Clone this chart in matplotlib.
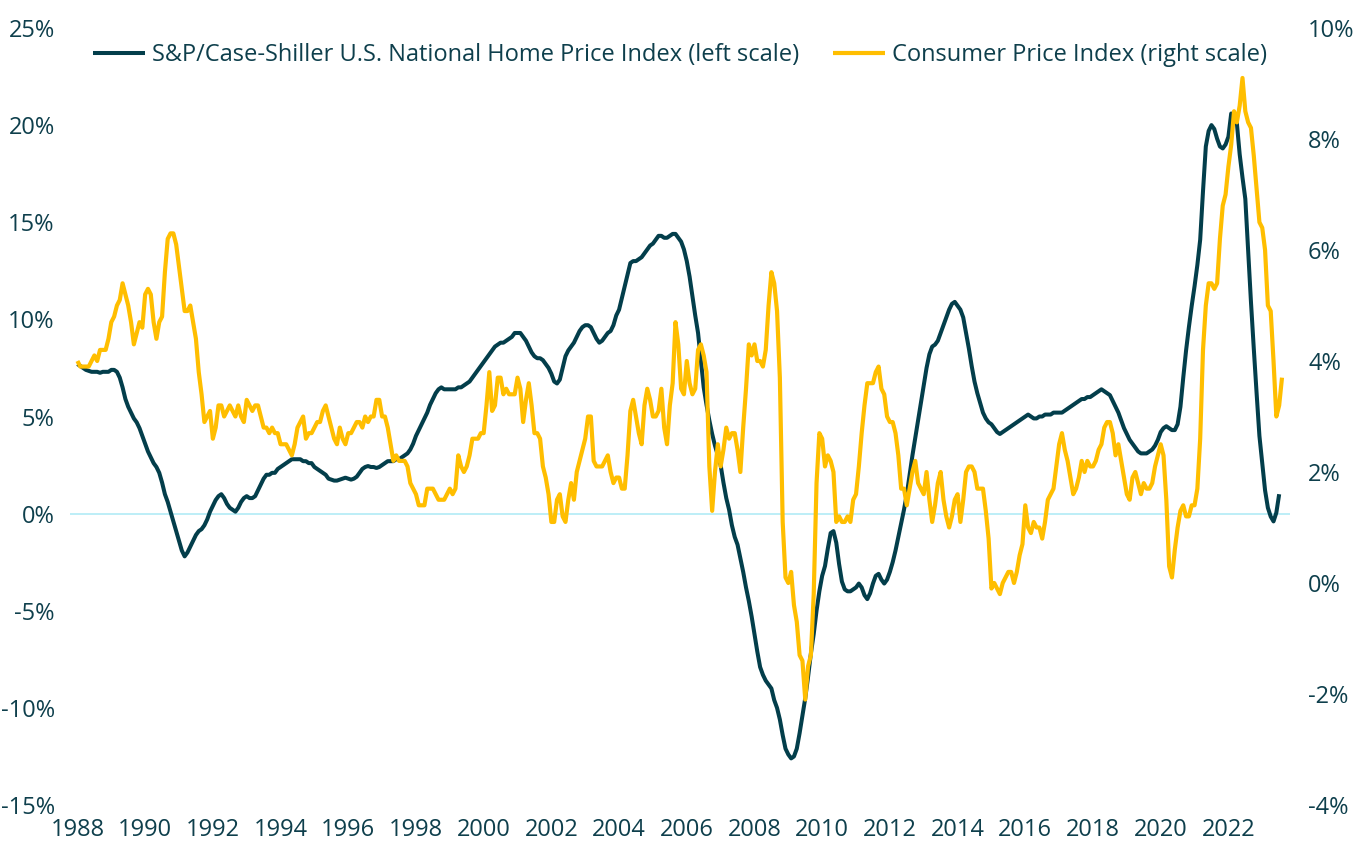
import matplotlib
matplotlib.use("Agg")
import matplotlib.pyplot as plt
import numpy as np

# ---------------- data (monthly, starting Jan 1988) ----------------
start_year = 1988

hpi_yoy = [  # S&P/Case-Shiller U.S. National Home Price Index, YoY %
    7.7, 7.6, 7.5, 7.4, 7.35, 7.3, 7.3, 7.3, 7.25, 7.3, 7.3, 7.3,        # 1988
    7.4, 7.4, 7.3, 7.0, 6.5, 5.9, 5.5, 5.2, 4.9, 4.7, 4.4, 4.0,         # 1989
    3.6, 3.2, 2.9, 2.6, 2.4, 2.1, 1.6, 1.0, 0.6, 0.1, -0.4, -0.9,       # 1990
    -1.4, -1.9, -2.2, -2.0, -1.7, -1.4, -1.1, -0.9, -0.8, -0.6, -0.3, 0.1,  # 1991
    0.4, 0.7, 0.9, 1.0, 0.8, 0.5, 0.3, 0.2, 0.1, 0.3, 0.6, 0.8,         # 1992
    0.9, 0.8, 0.8, 0.9, 1.2, 1.5, 1.8, 2.0, 2.0, 2.1, 2.1, 2.3,         # 1993
    2.4, 2.5, 2.6, 2.7, 2.8, 2.8, 2.8, 2.8, 2.7, 2.7, 2.6, 2.6,         # 1994
    2.4, 2.3, 2.2, 2.1, 2.0, 1.8, 1.75, 1.7, 1.7, 1.75, 1.8, 1.85,      # 1995
    1.8, 1.75, 1.8, 1.9, 2.1, 2.3, 2.4, 2.45, 2.4, 2.4, 2.35, 2.4,      # 1996
    2.5, 2.6, 2.7, 2.7, 2.7, 2.8, 2.8, 2.9, 3.0, 3.1, 3.3, 3.6,         # 1997
    4.0, 4.3, 4.6, 4.9, 5.2, 5.6, 5.9, 6.2, 6.4, 6.5, 6.4, 6.4,         # 1998
    6.4, 6.4, 6.4, 6.5, 6.5, 6.6, 6.7, 6.8, 7.0, 7.2, 7.4, 7.6,         # 1999
    7.8, 8.0, 8.2, 8.4, 8.6, 8.7, 8.8, 8.8, 8.9, 9.0, 9.1, 9.3,         # 2000
    9.3, 9.3, 9.1, 8.9, 8.6, 8.3, 8.1, 8.0, 8.0, 7.9, 7.7, 7.5,         # 2001
    7.2, 6.8, 6.7, 6.9, 7.5, 8.1, 8.4, 8.6, 8.8, 9.1, 9.4, 9.6,         # 2002
    9.7, 9.7, 9.6, 9.3, 9.0, 8.8, 8.9, 9.1, 9.3, 9.4, 9.7, 10.2,        # 2003
    10.5, 11.1, 11.7, 12.3, 12.9, 13.0, 13.0, 13.1, 13.2, 13.4, 13.6, 13.8,  # 2004
    13.9, 14.1, 14.3, 14.3, 14.2, 14.2, 14.3, 14.4, 14.4, 14.2, 14.0, 13.6,  # 2005
    13.0, 12.2, 11.2, 10.2, 9.3, 7.9, 6.5, 5.6, 4.8, 4.1, 3.5, 3.0,     # 2006
    2.5, 1.6, 0.8, 0.2, -0.6, -1.2, -1.6, -2.3, -3.0, -3.8, -4.5, -5.3,  # 2007
    -6.2, -7.1, -7.9, -8.3, -8.6, -8.8, -9.0, -9.6, -10.0, -10.6, -11.4, -12.1,  # 2008
    -12.4, -12.6, -12.5, -12.1, -11.3, -10.4, -9.5, -8.4, -7.2, -6.2, -5.0, -4.0,  # 2009
    -3.2, -2.7, -1.8, -1.0, -0.9, -1.5, -2.6, -3.5, -3.9, -4.0, -4.0, -3.9,  # 2010
    -3.8, -3.6, -3.8, -4.2, -4.4, -4.1, -3.6, -3.2, -3.1, -3.4, -3.6, -3.4,  # 2011
    -3.0, -2.5, -1.9, -1.2, -0.5, 0.2, 1.0, 2.0, 3.0, 3.9, 4.8, 5.7,    # 2012
    6.6, 7.5, 8.2, 8.6, 8.7, 8.9, 9.3, 9.7, 10.1, 10.5, 10.8, 10.9,     # 2013
    10.7, 10.5, 10.1, 9.3, 8.5, 7.6, 6.8, 6.2, 5.7, 5.2, 4.9, 4.7,      # 2014
    4.6, 4.4, 4.2, 4.1, 4.2, 4.3, 4.4, 4.5, 4.6, 4.7, 4.8, 4.9,         # 2015
    5.0, 5.1, 5.0, 4.9, 4.9, 5.0, 5.0, 5.1, 5.1, 5.1, 5.2, 5.2,         # 2016
    5.2, 5.2, 5.3, 5.4, 5.5, 5.6, 5.7, 5.8, 5.9, 5.9, 6.0, 6.0,         # 2017
    6.1, 6.2, 6.3, 6.4, 6.3, 6.2, 6.1, 5.8, 5.5, 5.2, 4.8, 4.4,         # 2018
    4.1, 3.8, 3.6, 3.4, 3.2, 3.1, 3.1, 3.1, 3.2, 3.3, 3.5, 3.8,         # 2019
    4.2, 4.4, 4.5, 4.4, 4.3, 4.3, 4.6, 5.5, 7.0, 8.4, 9.6, 10.7,        # 2020
    11.7, 12.8, 14.1, 16.6, 18.9, 19.7, 20.0, 19.8, 19.3, 18.9, 18.8, 19.0,  # 2021
    19.4, 20.6, 20.5, 20.1, 18.5, 17.3, 16.2, 13.5, 10.9, 8.5, 6.2, 4.0,  # 2022
    2.6, 1.2, 0.3, -0.15, -0.4, 0.05, 1.0,                              # 2023
]

cpi_yoy = [  # Consumer Price Index, YoY %
    4.0, 3.9, 3.9, 3.9, 3.9, 4.0, 4.1, 4.0, 4.2, 4.2, 4.2, 4.4,   # 1988
    4.7, 4.8, 5.0, 5.1, 5.4, 5.2, 5.0, 4.7, 4.3, 4.5, 4.7, 4.6,   # 1989
    5.2, 5.3, 5.2, 4.7, 4.4, 4.7, 4.8, 5.6, 6.2, 6.3, 6.3, 6.1,   # 1990
    5.7, 5.3, 4.9, 4.9, 5.0, 4.7, 4.4, 3.8, 3.4, 2.9, 3.0, 3.1,   # 1991
    2.6, 2.8, 3.2, 3.2, 3.0, 3.1, 3.2, 3.1, 3.0, 3.2, 3.0, 2.9,   # 1992
    3.3, 3.2, 3.1, 3.2, 3.2, 3.0, 2.8, 2.8, 2.7, 2.8, 2.7, 2.7,   # 1993
    2.5, 2.5, 2.5, 2.4, 2.3, 2.5, 2.8, 2.9, 3.0, 2.6, 2.7, 2.7,   # 1994
    2.8, 2.9, 2.9, 3.1, 3.2, 3.0, 2.8, 2.6, 2.5, 2.8, 2.6, 2.5,   # 1995
    2.7, 2.7, 2.8, 2.9, 2.9, 2.8, 3.0, 2.9, 3.0, 3.0, 3.3, 3.3,   # 1996
    3.0, 3.0, 2.8, 2.5, 2.2, 2.3, 2.2, 2.2, 2.2, 2.1, 1.8, 1.7,   # 1997
    1.6, 1.4, 1.4, 1.4, 1.7, 1.7, 1.7, 1.6, 1.5, 1.5, 1.5, 1.6,   # 1998
    1.7, 1.6, 1.7, 2.3, 2.1, 2.0, 2.1, 2.3, 2.6, 2.6, 2.6, 2.7,   # 1999
    2.7, 3.2, 3.8, 3.1, 3.2, 3.7, 3.7, 3.4, 3.5, 3.4, 3.4, 3.4,   # 2000
    3.7, 3.5, 2.9, 3.3, 3.6, 3.2, 2.7, 2.7, 2.6, 2.1, 1.9, 1.6,   # 2001
    1.1, 1.1, 1.5, 1.6, 1.2, 1.1, 1.5, 1.8, 1.5, 2.0, 2.2, 2.4,   # 2002
    2.6, 3.0, 3.0, 2.2, 2.1, 2.1, 2.1, 2.2, 2.3, 2.0, 1.8, 1.9,   # 2003
    1.9, 1.7, 1.7, 2.3, 3.1, 3.3, 3.0, 2.7, 2.5, 3.2, 3.5, 3.3,   # 2004
    3.0, 3.0, 3.1, 3.5, 2.8, 2.5, 3.2, 3.6, 4.7, 4.3, 3.5, 3.4,   # 2005
    4.0, 3.6, 3.4, 3.5, 4.2, 4.3, 4.1, 3.8, 2.1, 1.3, 2.0, 2.5,   # 2006
    2.1, 2.4, 2.8, 2.6, 2.7, 2.7, 2.4, 2.0, 2.8, 3.5, 4.3, 4.1,   # 2007
    4.3, 4.0, 4.0, 3.9, 4.2, 5.0, 5.6, 5.4, 4.9, 3.7, 1.1, 0.1,   # 2008
    0.0, 0.2, -0.4, -0.7, -1.3, -1.4, -2.1, -1.5, -1.3, -0.2, 1.8, 2.7,  # 2009
    2.6, 2.1, 2.3, 2.2, 2.0, 1.1, 1.2, 1.1, 1.1, 1.2, 1.1, 1.5,   # 2010
    1.6, 2.1, 2.7, 3.2, 3.6, 3.6, 3.6, 3.8, 3.9, 3.5, 3.4, 3.0,   # 2011
    2.9, 2.9, 2.7, 2.3, 1.7, 1.7, 1.4, 1.7, 2.0, 2.2, 1.8, 1.7,   # 2012
    1.6, 2.0, 1.5, 1.1, 1.4, 1.8, 2.0, 1.5, 1.2, 1.0, 1.2, 1.5,   # 2013
    1.6, 1.1, 1.5, 2.0, 2.1, 2.1, 2.0, 1.7, 1.7, 1.7, 1.3, 0.8,   # 2014
    -0.1, 0.0, -0.1, -0.2, 0.0, 0.1, 0.2, 0.2, 0.0, 0.2, 0.5, 0.7,  # 2015
    1.4, 1.0, 0.9, 1.1, 1.0, 1.0, 0.8, 1.1, 1.5, 1.6, 1.7, 2.1,   # 2016
    2.5, 2.7, 2.4, 2.2, 1.9, 1.6, 1.7, 1.9, 2.2, 2.0, 2.2, 2.1,   # 2017
    2.1, 2.2, 2.4, 2.5, 2.8, 2.9, 2.9, 2.7, 2.3, 2.5, 2.2, 1.9,   # 2018
    1.6, 1.5, 1.9, 2.0, 1.8, 1.6, 1.8, 1.7, 1.7, 1.8, 2.1, 2.3,   # 2019
    2.5, 2.3, 1.5, 0.3, 0.1, 0.6, 1.0, 1.3, 1.4, 1.2, 1.2, 1.4,   # 2020
    1.4, 1.7, 2.6, 4.2, 5.0, 5.4, 5.4, 5.3, 5.4, 6.2, 6.8, 7.0,   # 2021
    7.5, 7.9, 8.5, 8.3, 8.6, 9.1, 8.5, 8.3, 8.2, 7.7, 7.1, 6.5,   # 2022
    6.4, 6.0, 5.0, 4.9, 4.0, 3.0, 3.2, 3.7,                       # 2023
]

hpi_label = "S&P/Case-Shiller U.S. National Home Price Index (left scale)"
cpi_label = "Consumer Price Index (right scale)"

left_ticks = [-15, -10, -5, 0, 5, 10, 15, 20, 25]
right_ticks = [-4, -2, 0, 2, 4, 6, 8, 10]
year_ticks = list(range(1988, 2023, 2))

# ---------------- styling ----------------
DARK = "#033e4b"
GOLD = "#ffbe00"
ZERO = "#bdeef7"
TXT = "#0e3f4c"
plt.rcParams["font.family"] = ["Open Sans", "DejaVu Sans"]

hpi_x = start_year + np.arange(len(hpi_yoy)) / 12.0
cpi_x = start_year + np.arange(len(cpi_yoy)) / 12.0

W, H = 1364, 849
fig = plt.figure(figsize=(W / 100, H / 100), dpi=100)
L, R, T, B = 70, 1290, 28, 805
ax = fig.add_axes([L / W, (H - B) / H, (R - L) / W, (B - T) / H])
ax.set_xlim(1987.78, 2023.82)
ax.set_ylim(-15, 25)

ax.axhline(0, color=ZERO, lw=1.4, zorder=1)
hpi_line, = ax.plot(hpi_x, hpi_yoy, color=DARK, lw=2.9, zorder=3,
                    solid_joinstyle="round", solid_capstyle="butt")

ax2 = ax.twinx()
ax2.set_ylim(-4, 10)
cpi_line, = ax2.plot(cpi_x, cpi_yoy, color=GOLD, lw=3.0, zorder=3,
                     solid_joinstyle="round", solid_capstyle="butt")

for a in (ax, ax2):
    for s in a.spines.values():
        s.set_visible(False)

ax.set_yticks(left_ticks)
ax.set_yticklabels([f"{v}%" for v in left_ticks])
ax2.set_yticks(right_ticks)
ax2.set_yticklabels([f"{v}%" for v in right_ticks])
ax.set_xticks(year_ticks)
ax.set_xticklabels([str(y) for y in year_ticks])

ax.tick_params(axis="y", length=0, pad=11, labelsize=17, labelcolor=TXT)
ax2.tick_params(axis="y", length=0, pad=13, labelsize=17, labelcolor=TXT)
ax.tick_params(axis="x", length=0, pad=9, labelsize=17, labelcolor=TXT)

leg = fig.legend([hpi_line, cpi_line], [hpi_label, cpi_label],
                 loc="center", bbox_to_anchor=(680 / W, 1 - 55 / H),
                 ncol=2, frameon=False, fontsize=17,
                 handlelength=2.2, handletextpad=0.3, columnspacing=1.45,
                 borderpad=0, borderaxespad=0)
for t in leg.get_texts():
    t.set_color(TXT)

fig.savefig("out.png", dpi=100)
